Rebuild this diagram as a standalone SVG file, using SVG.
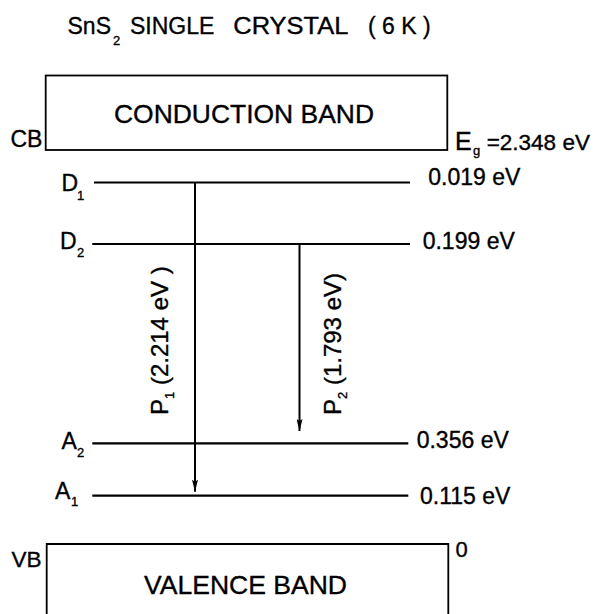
<svg xmlns="http://www.w3.org/2000/svg" width="595" height="614" viewBox="0 0 595 614">
<style>
text{font-family:"Liberation Sans",Arial,Helvetica,sans-serif;fill:#000;stroke:#000;stroke-width:0.35}
.t23{font-size:23px}
.band{font-size:26px}
.sub{font-size:13px}
.lvl{stroke:#000;stroke-width:2.2;fill:none}
.box{stroke:#000;stroke-width:1.8;fill:none}
.tr{stroke:#000;stroke-width:2;fill:none}
</style>
<defs>
<marker id="arr" viewBox="0 0 12 6" refX="12" refY="3" markerWidth="12" markerHeight="6" markerUnits="userSpaceOnUse" orient="auto">
<path d="M0,0 L12,3 L0,6 L2,3 Z" fill="#000"/>
</marker>
</defs>
<rect width="595" height="614" fill="#fff"/>
<g id="title">
<text class="t23" x="67.5" y="33.5">SnS</text>
<text class="sub" x="113" y="45">2</text>
<text class="t23" x="130" y="33.5">SINGLE</text>
<text class="t23" x="233.3" y="33.5" textLength="115" lengthAdjust="spacingAndGlyphs">CRYSTAL</text>
<text class="t23" x="368" y="33.5" xml:space="preserve">( 6 K )</text>
</g>
<g id="conduction-band">
<rect class="box" x="45.7" y="75.5" width="401.6" height="74.5"/>
<text class="band" x="114" y="123.3" textLength="260" lengthAdjust="spacingAndGlyphs">CONDUCTION BAND</text>
<text class="t23" x="10.5" y="146.7">CB</text>
</g>
<g id="band-gap">
<text style="font-size:25px" x="455" y="150">E</text>
<text class="sub" x="473" y="155">g</text>
<text style="font-size:22.5px" x="486.7" y="150">=2.348 eV</text>
</g>
<g id="valence-band">
<path class="box" d="M46.7,620 V544 H448.3 V620"/>
<text class="band" x="144" y="594.3" textLength="203" lengthAdjust="spacingAndGlyphs">VALENCE BAND</text>
<text style="font-size:22.5px" x="11.5" y="566.7">VB</text>
<text style="font-size:22px" x="455.5" y="556.7">0</text>
</g>
<g id="level-D1">
<line class="lvl" x1="94" y1="182.5" x2="410" y2="182.5"/>
<text class="t23" x="61.5" y="190.5">D</text>
<text class="sub" x="77" y="199.5">1</text>
<text class="t23" x="428.3" y="185">0.019 eV</text>
</g>
<g id="level-D2">
<line class="lvl" x1="92.3" y1="244" x2="410" y2="244"/>
<text class="t23" x="60" y="249.3">D</text>
<text class="sub" x="77" y="257.3">2</text>
<text class="t23" x="422.7" y="249">0.199 eV</text>
</g>
<g id="level-A2">
<line class="lvl" x1="92.3" y1="443.3" x2="408.3" y2="443.3"/>
<text class="t23" x="61.5" y="449">A</text>
<text class="sub" x="77" y="456.5">2</text>
<text class="t23" x="416.7" y="447.7">0.356 eV</text>
</g>
<g id="level-A1">
<line class="lvl" x1="92.3" y1="495.7" x2="408.3" y2="495.7"/>
<text class="t23" x="55" y="499">A</text>
<text class="sub" x="71" y="506">1</text>
<text class="t23" x="420" y="504.3">0.115 eV</text>
</g>
<g id="connectors">
<line class="tr" x1="195" y1="182.5" x2="195" y2="491.7" marker-end="url(#arr)"/>
<line class="tr" x1="299.5" y1="244" x2="299.5" y2="431" marker-end="url(#arr)"/>
</g>
<g id="label-P1" transform="translate(168.3,415) rotate(-90)">
<text style="font-size:24px" x="0" y="0">P<tspan class="sub" dy="6">1</tspan><tspan dy="-6" xml:space="preserve"> (2.214 eV )</tspan></text>
</g>
<g id="label-P2" transform="translate(341,415) rotate(-90)">
<text style="font-size:24px" x="0" y="0">P<tspan class="sub" dy="6">2</tspan><tspan dy="-6" xml:space="preserve"> (1.793 eV)</tspan></text>
</g>
</svg>
